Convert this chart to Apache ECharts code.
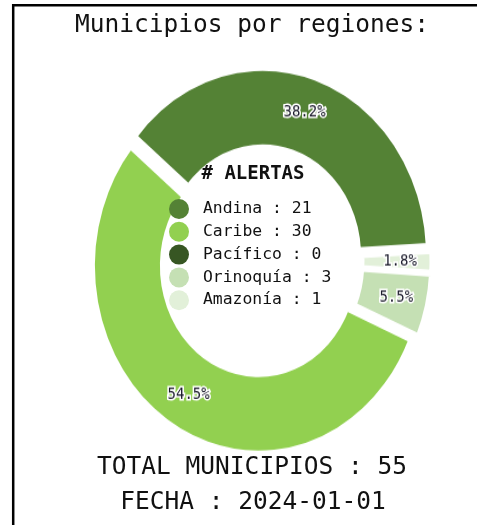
<!DOCTYPE html>
<html>
<head>
<meta charset="utf-8">
<script src="https://cdn.jsdelivr.net/npm/echarts@6/dist/echarts.min.js"></script>
<style>
  html, body { margin: 0; padding: 0; background: #fff; overflow: hidden; }
  #stage { position: relative; width: 477px; height: 525px; overflow: hidden; background: #fff; }
  #ring, #texts { position: absolute; left: 0; top: 0; width: 477px; height: 525px; }
</style>
</head>
<body>
<div id="stage">
  <div id="ring"></div>
  <div id="texts"></div>
</div>
<script>
// Alert counts per region
const regions = ['Andina', 'Caribe', 'Pacífico', 'Orinoquía', 'Amazonía'];
const alerts = [21, 30, 0, 3, 1];
const colors = ['#548235', '#92d050', '#375623', '#c5e0b4', '#e2f0d9'];
const chartTitle = 'Municipios por regiones:';
const legendTitle = '# ALERTAS';
const fecha = '2024-01-01';

const totalMunicipios = alerts.reduce((a, b) => a + b, 0);
const MONO = '"DejaVu Sans Mono", monospace';

// The ring is drawn as an ellipse: the pie canvas is stretched vertically.
const CX = 261, CY = 261, SY = 1.13;
const ringEl = document.getElementById('ring');
ringEl.style.transformOrigin = CX + 'px ' + CY + 'px';
ringEl.style.transform = 'scaleY(' + SY + ')';

const ring = echarts.init(ringEl, null, { renderer: 'canvas' });
ring.setOption({
  animation: false,
  series: [{
    type: 'pie',
    center: [CX, CY],
    radius: [96, 166],
    startAngle: 3,
    clockwise: false,
    selectedMode: 'multiple',
    selectedOffset: 5,
    avoidLabelOverlap: false,
    percentPrecision: 1,
    itemStyle: { borderColor: '#fff', borderWidth: 5 },
    label: {
      show: true,
      position: 'inside',
      formatter: p => (p.value > 0 ? p.percent.toFixed(1) + '%' : ''),
      fontFamily: MONO,
      fontSize: 14,
      color: '#1c1c2c',
      textBorderColor: '#fff',
      textBorderWidth: 3
    },
    labelLine: { show: false },
    emphasis: { disabled: true },
    data: regions.map((name, i) => ({
      name: name,
      value: alerts[i],
      selected: true,
      itemStyle: { color: colors[i] }
    }))
  }]
});

// Frame, titles, legend and footer
const texts = echarts.init(document.getElementById('texts'), null, { renderer: 'canvas' });
const LEG_X = 179, LEG_Y = 209, LEG_STEP = 22.8;

function label(x, y, text, font, align) {
  return {
    type: 'text', x: x, y: y, silent: true,
    style: { text: text, font: font, fill: '#111', align: align, verticalAlign: 'middle',
             textAlign: align, textVerticalAlign: 'middle' }
  };
}

const graphic = [
  {
    type: 'polyline', silent: true,
    shape: { points: [[13.2, 530], [13.2, 5.2], [490, 5.2]] },
    style: { stroke: '#000', lineWidth: 2.5, fill: null }
  },
  label(252, 26, chartTitle, '24.5px ' + MONO, 'center'),
  label(253, 174, legendTitle, 'bold 19px ' + MONO, 'center'),
  label(252, 468, 'TOTAL MUNICIPIOS : ' + totalMunicipios, '24.5px ' + MONO, 'center'),
  label(253, 503, 'FECHA : ' + fecha, '24.5px ' + MONO, 'center')
];
regions.forEach((name, i) => {
  const y = LEG_Y + i * LEG_STEP;
  graphic.push({ type: 'circle', silent: true, shape: { cx: LEG_X, cy: y, r: 10 }, style: { fill: colors[i] } });
  graphic.push(label(LEG_X + 24, y, name + ' : ' + alerts[i], '16.4px ' + MONO, 'left'));
});

texts.setOption({ animation: false, graphic: graphic });
</script>
</body>
</html>
